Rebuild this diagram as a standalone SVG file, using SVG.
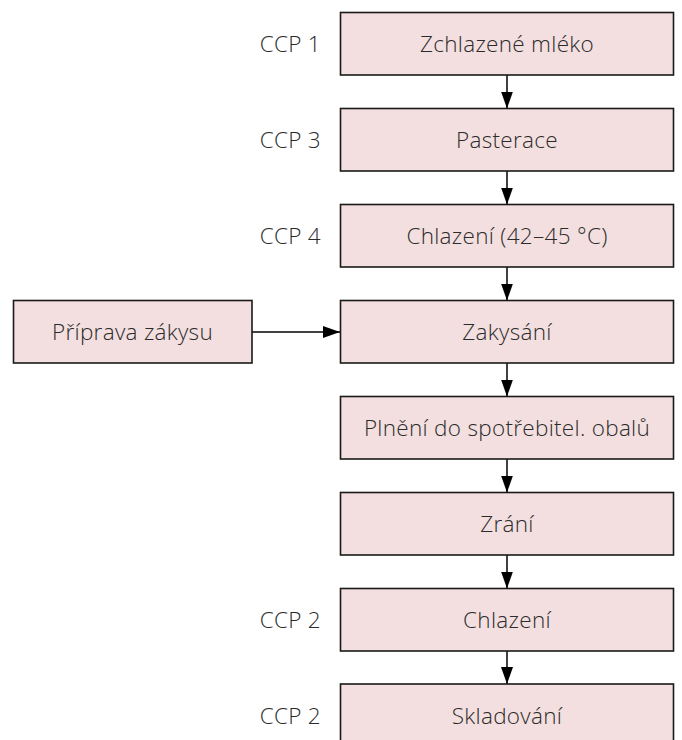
<svg xmlns="http://www.w3.org/2000/svg" width="682" height="740" viewBox="0 0 682 740">
  <style>
    .box { fill: #f3dfdf; stroke: #1a1a1a; stroke-width: 1.6; }
    .lbl { font-family: "Open Sans", "Noto Sans", sans-serif; font-weight: 300; font-size: 22.5px; letter-spacing: 0.3px; fill: #2b2b2b; text-anchor: middle; }
    .ccp { font-family: "Open Sans", "Noto Sans", sans-serif; font-weight: 300; font-size: 22.5px; letter-spacing: 0.3px; fill: #2b2b2b; text-anchor: end; }
    .link { stroke: #000; stroke-width: 1.5; fill: none; marker-end: url(#head); }
  </style>
  <defs>
    <marker id="head" markerUnits="userSpaceOnUse" markerWidth="17" markerHeight="12" refX="17" refY="6" orient="auto">
      <path d="M0,0 L17,6 L0,12 Z" fill="#000"/>
    </marker>
  </defs>
  <rect width="682" height="740" fill="#fff"/>

  <g id="connectors">
    <line class="link" x1="507" y1="75" x2="507" y2="108.5"/>
    <line class="link" x1="507" y1="171" x2="507" y2="204.5"/>
    <line class="link" x1="507" y1="267" x2="507" y2="300.5"/>
    <line class="link" x1="507" y1="363" x2="507" y2="396.5"/>
    <line class="link" x1="507" y1="459" x2="507" y2="492.5"/>
    <line class="link" x1="507" y1="555" x2="507" y2="588.5"/>
    <line class="link" x1="507" y1="651" x2="507" y2="684"/>
    <line class="link" x1="252" y1="332" x2="340" y2="332"/>
  </g>

  <g id="n1">
    <rect class="box" x="340.5" y="12.5" width="333" height="62.5"/>
    <text class="lbl" x="507" y="52">Zchlazené mléko</text>
    <text class="ccp" x="321" y="52">CCP 1</text>
  </g>
  <g id="n2">
    <rect class="box" x="340.5" y="108.5" width="333" height="62.5"/>
    <text class="lbl" x="507" y="148">Pasterace</text>
    <text class="ccp" x="321" y="148">CCP 3</text>
  </g>
  <g id="n3">
    <rect class="box" x="340.5" y="204.5" width="333" height="62.5"/>
    <text class="lbl" x="507" y="244">Chlazení (42–45 °C)</text>
    <text class="ccp" x="321" y="244">CCP 4</text>
  </g>
  <g id="n4">
    <rect class="box" x="340.5" y="300.5" width="333" height="62.5"/>
    <text class="lbl" x="507" y="340">Zakysání</text>
  </g>
  <g id="n4a">
    <rect class="box" x="13.5" y="300.5" width="238.5" height="62.5"/>
    <text class="lbl" x="132.5" y="340">Příprava zákysu</text>
  </g>
  <g id="n5">
    <rect class="box" x="340.5" y="396.5" width="333" height="62.5"/>
    <text class="lbl" x="507" y="436">Plnění do spotřebitel. obalů</text>
  </g>
  <g id="n6">
    <rect class="box" x="340.5" y="492.5" width="333" height="62.5"/>
    <text class="lbl" x="507" y="532">Zrání</text>
  </g>
  <g id="n7">
    <rect class="box" x="340.5" y="588.5" width="333" height="62.5"/>
    <text class="lbl" x="507" y="628">Chlazení</text>
    <text class="ccp" x="321" y="628">CCP 2</text>
  </g>
  <g id="n8">
    <rect class="box" x="340.5" y="684" width="333" height="62.5"/>
    <text class="lbl" x="507" y="723.5">Skladování</text>
    <text class="ccp" x="321" y="723.5">CCP 2</text>
  </g>
</svg>
